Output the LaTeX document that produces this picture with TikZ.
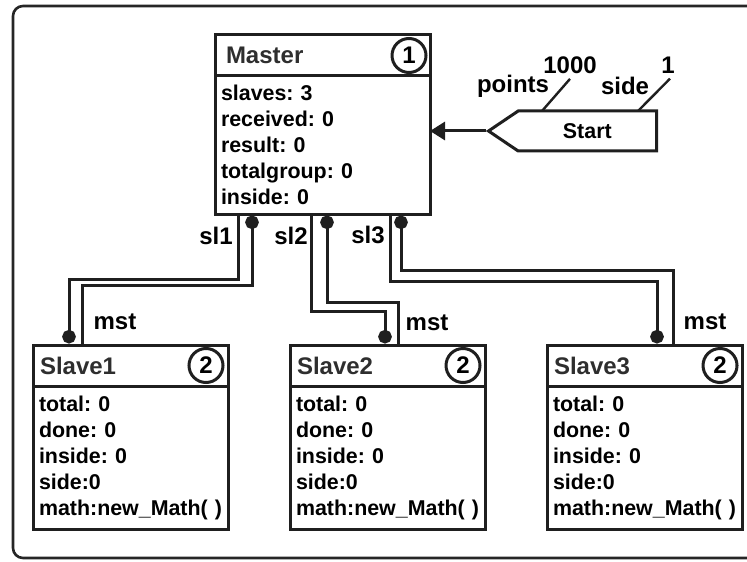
\documentclass[tikz,border=0pt]{standalone}
\usepackage{fontspec}
\setmainfont{Liberation Sans}
\usetikzlibrary{shapes, shapes.symbols, positioning, arrows.meta, calc}
\colorlet{drawColor}{black!88}
\colorlet{textColor}{black!82}
\newcommand{\headFont}{\frenchspacing\bfseries\fontsize{12}{14}\selectfont}
\newcommand{\bodyFont}{\frenchspacing\bfseries\fontsize{10.7}{13}\selectfont}
\tikzstyle{head}=[rectangle, draw=drawColor, line width=1.5pt, outer sep=0pt,
  inner xsep=5.5pt, align=left, text=textColor, font=\headFont, minimum height=20.5pt]
\tikzstyle{body}=[rectangle, draw=drawColor, line width=1.5pt, outer sep=0pt,
  inner xsep=3pt, align=left, text=black, font=\bodyFont]
\tikzstyle{num}=[circle, draw=drawColor, line width=1.5pt, minimum size=17pt,
  inner sep=0pt, font=\bfseries\fontsize{12}{12}\selectfont]
\tikzstyle{tag}=[inner sep=0pt, font=\headFont]
\tikzstyle{startSig}=[signal, signal to=west, signal pointer angle=68, draw=drawColor,
  line width=1.5pt, minimum width=84pt, minimum height=20pt, font=\bfseries\fontsize{10.7}{12}\selectfont]
\tikzstyle{wire}=[line width=1.5pt, draw=drawColor]
\tikzstyle{port}=[{Circle[length=6.8pt]}-]
\tikzstyle{lead}=[line width=1.2pt, draw=drawColor]
\tikzstyle{arrow}=[-{Triangle[length=7.5pt,width=9pt]}, line width=1.5pt, draw=drawColor]
\tikzstyle{frame}=[line width=1.3pt, draw=black!85, rounded corners=5pt]

\begin{document}
\begin{tikzpicture}[x=0.5pt, y=-0.5pt, node distance=31pt]
      \useasboundingbox (0,0) rectangle (747,561);
      \draw [frame] (13,6) rectangle (770,558);
      \node (masterHead) [head, text width=96.5pt] at (322.5,55.5) {Master};
      \node (masterNum) [num] at ($(masterHead.east)+(-21,0)$) {1};
      \node (masterBody) [body, text width=101.5pt, minimum height=69pt, below=0pt of masterHead]
        {slaves: 3\\received: 0\\result: 0\\totalgroup: 0\\inside: 0};
      \node (start) [startSig, anchor=east] at (658,131) {Start};
      \draw [arrow] (start.west) -- (start.west -| masterBody.east);
      \node (ptsVal) [tag] at (570,65) {1000};
      \node (ptsName) [tag] at (513,86) {points};
      \draw [lead] ($(start.east)+(-116,-20)$) -- ($(ptsVal.south)+(0,5)$);
      \node (sideVal) [tag] at (668,65) {1};
      \node (sideName) [tag] at (625,86) {side};
      \draw [lead] ($(start.east)+(-20,-20)$) -- ($(sideVal.south)+(2,5)$);
      \node (slaveOneHead) [head, inner xsep=3.5pt, text width=90.5pt] at (130.5,365.5) {Slave1};
      \node (slaveOneNum) [num] at ($(slaveOneHead.east)+(-22,0)$) {2};
      \node (slaveOneBody) [body, text width=91.5pt, minimum height=71.5pt, below=0pt of slaveOneHead]
        {total: 0\\done: 0\\inside: 0\\side:0\\math:new\_Math(~)};
      \node (slaveTwoHead) [head, inner xsep=3.5pt, text width=90.5pt, right=of slaveOneHead] {Slave2};
      \node (slaveTwoNum) [num] at ($(slaveTwoHead.east)+(-22,0)$) {2};
      \node (slaveTwoBody) [body, text width=91.5pt, minimum height=71.5pt, below=0pt of slaveTwoHead]
        {total: 0\\done: 0\\inside: 0\\side:0\\math:new\_Math(~)};
      \node (slaveThreeHead) [head, inner xsep=3.5pt, text width=90.5pt, right=of slaveTwoHead] {Slave3};
      \node (slaveThreeNum) [num] at ($(slaveThreeHead.east)+(-22,0)$) {2};
      \node (slaveThreeBody) [body, text width=91.5pt, minimum height=71.5pt, below=0pt of slaveThreeHead]
        {total: 0\\done: 0\\inside: 0\\side:0\\math:new\_Math(~)};
      \draw [wire, port] ($(masterBody.south west)+(37,1.5)$) -- ++(0,69.5) -| ($(slaveOneHead.north west)+(49,0)$);
      \draw [wire, port] ($(slaveOneHead.north west)+(36,-1.5)$) -- ++(0,-64.5) -| ($(masterBody.south west)+(23,0)$);
      \draw [wire, port] ($(masterBody.south west)+(112,1.5)$) -- ++(0,86.5) -| ($(slaveTwoHead.north west)+(108,0)$);
      \draw [wire, port] ($(slaveTwoHead.north west)+(95,-1.5)$) -- ++(0,-32.5) -| ($(masterBody.south west)+(96,0)$);
      \draw [wire, port] ($(masterBody.south west)+(186,1.5)$) -- ++(0,54.5) -| ($(slaveThreeHead.north west)+(126,0)$);
      \draw [wire, port] ($(slaveThreeHead.north west)+(110,-1.5)$) -- ++(0,-62.5) -| ($(masterBody.south west)+(175,0)$);
      \node (slOneTag) [tag] at (216,236) {sl1};
      \node (slTwoTag) [tag] at (291,236) {sl2};
      \node (slThreeTag) [tag] at (368,235) {sl3};
      \node (mstOneTag) [tag] at (115,322) {mst};
      \node (mstTwoTag) [tag] at (427,323) {mst};
      \node (mstThreeTag) [tag] at (705,322) {mst};
    \end{tikzpicture}
\end{document}
